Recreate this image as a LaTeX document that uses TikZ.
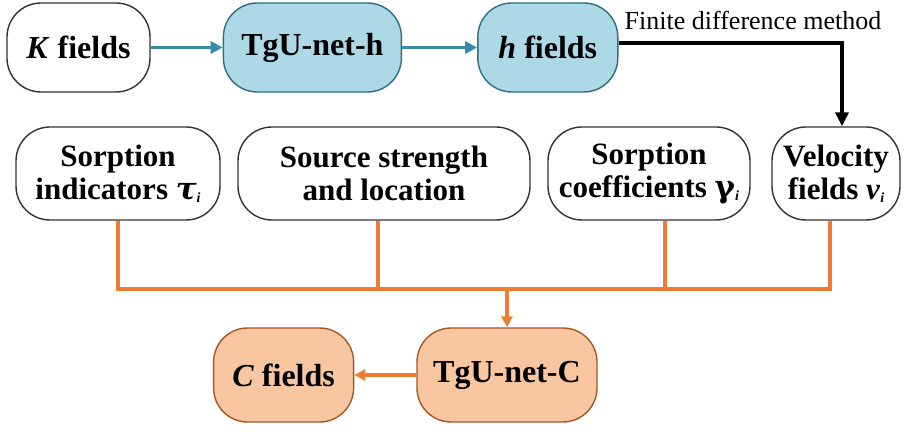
\documentclass[tikz,border=0pt]{standalone}
\usepackage{fontspec}
\setmainfont{Liberation Serif}[Ligatures=NoCommon]
\newfontfamily\greekfont{DejaVu Serif}
\usetikzlibrary{arrows.meta,positioning}
\definecolor{netblue}{HTML}{ADD8E6}
\definecolor{netblueline}{HTML}{3A8AA3}
\definecolor{netorange}{HTML}{F8C6A0}
\definecolor{orangeline}{HTML}{EE7D31}
\newcommand{\idx}{\raisebox{-1.8pt}{\fontsize{8.4}{9}\selectfont\textit{i}}}
\begin{document}
\begin{tikzpicture}[
  x=0.6pt,y=-0.6pt,
  box/.style={draw=black!80,line width=0.84pt,rounded corners=20.4pt,align=center,
              minimum height=53.4pt,inner sep=0pt,
              font=\fontsize{19.2}{19.8}\selectfont\bfseries},
  bluebox/.style={box,fill=netblue,draw=netblueline!80!black},
  orangebox/.style={box,fill=netorange,draw=orangeline!70!black,minimum height=56.4pt},
  inbox/.style={box,minimum height=55.8pt,font=\fontsize{18.6}{19.8}\selectfont\bfseries},
  bluearrow/.style={-{Triangle[length=7.2pt,width=7.2pt]},line width=2.1pt,draw=netblueline},
  fdarrow/.style={-{Triangle[length=8.4pt,width=7.8pt]},line width=2.1pt},
  busline/.style={line width=2.1pt,draw=orangeline},
  orangearrow/.style={busline,-{Triangle[length=6.6pt,width=6.6pt]}}
]
\useasboundingbox (0,0) rectangle (904,432);
% first row
\node[box,minimum width=85.8pt] (kfield) at (78.5,47.5) {\textit{K} fields};
\node[bluebox,minimum width=106.8pt,right=43.2pt of kfield] (neth) {TgU-net-h};
\node[bluebox,minimum width=84pt,right=45pt of neth] (hfield) {\textit{h} fields};
% inputs of the transport net
\node[inbox,minimum width=122.4pt] (sorpind) at (118,173.5) {Sorption\\indicators {\greekfont\itshape τ}\idx};
\node[inbox,minimum width=175.2pt] (src) at (384,173.5) {Source strength\\and location};
\node[inbox,minimum width=121.2pt] (coef) at (649,173.5) {Sorption\\coefficients {\greekfont γ}\idx};
\node[inbox,minimum width=76.8pt] (vel) at (836,173.5) {Velocity\\fields \textit{v}\idx};
% last row
\node[orangebox,minimum width=108pt] (netc) at (507,375) {TgU-net-C};
\node[orangebox,minimum width=84pt,left=37.2pt of netc] (cfield) {\textit{C} fields};
\coordinate (fdturn) at (842,43);
\coordinate (bus) at (507,289);
\node[anchor=base,font=\fontsize{15.6}{16.8}\selectfont] (fdlabel) at (753,30) {Finite difference method};
\draw[bluearrow] (kfield) -- (neth);
\draw[bluearrow] (neth) -- (hfield);
\draw[fdarrow] (hfield.east |- fdturn) -- (fdturn) -- (fdturn |- vel.north);
\draw[busline] (sorpind.south) |- (bus);
\draw[busline] ([xshift=-3.6pt]vel.south) |- (bus);
\draw[busline] (src.south -| 378,0) -- (378,0 |- bus);
\draw[busline] ([xshift=9.6pt]coef.south) -- ([xshift=9.6pt]coef.south |- bus);
\draw[orangearrow] (bus) -- (netc.north);
\draw[orangearrow] (netc) -- (cfield);
\end{tikzpicture}
\end{document}
